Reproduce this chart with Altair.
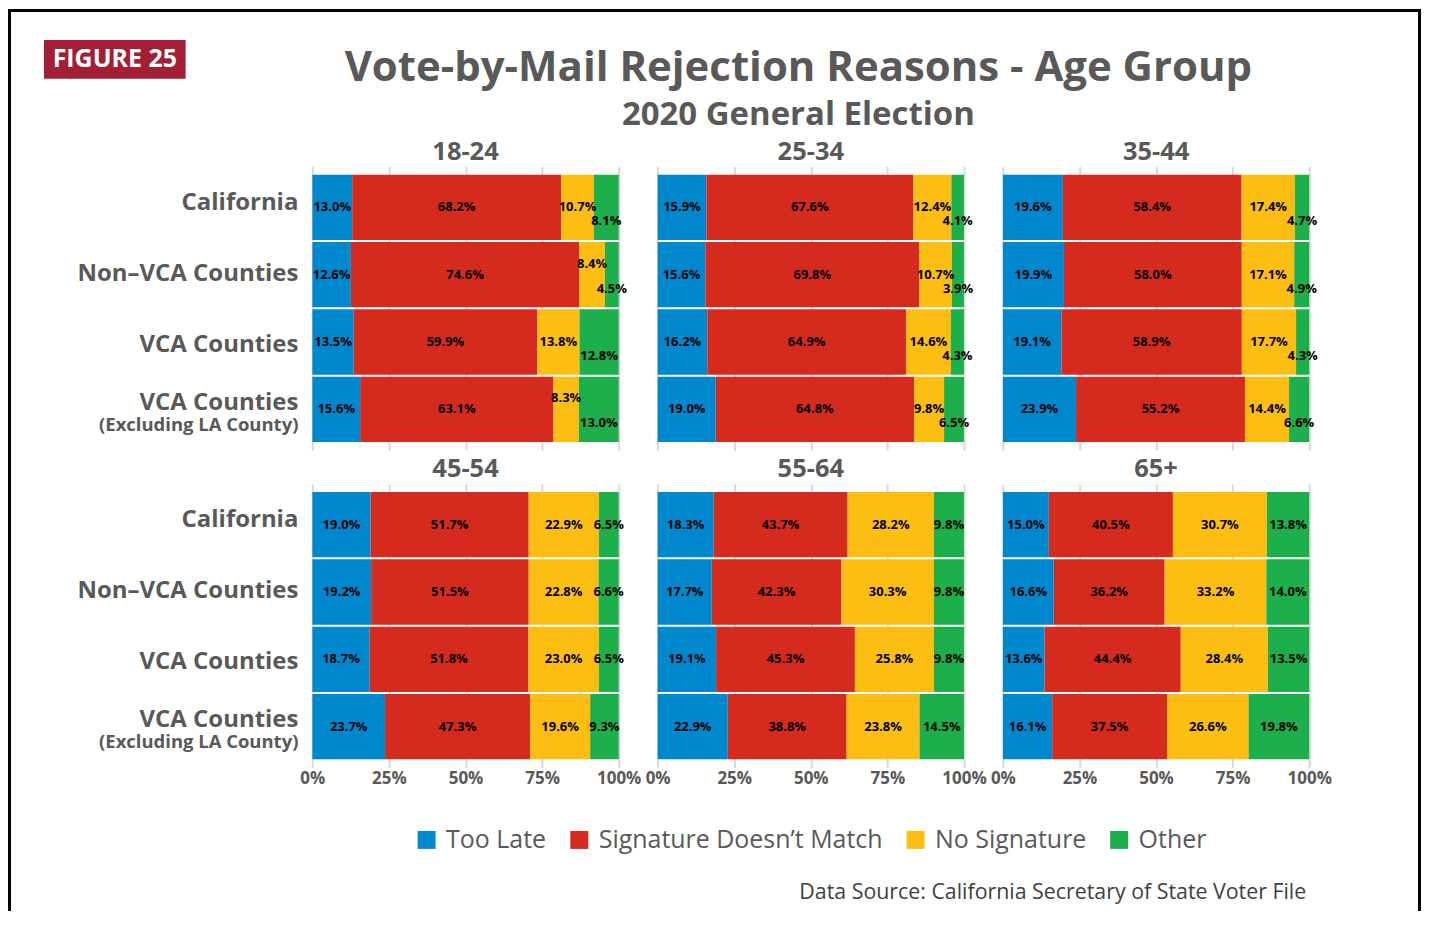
import altair as alt
import pandas as pd

# ---------------- data ----------------
ages = ["18-24", "25-34", "35-44", "45-54", "55-64", "65+"]
regions = ["California", "Non–VCA Counties", "VCA Counties", "VCA Counties (Excluding LA County)"]
region_main = ["California", "Non–VCA Counties", "VCA Counties", "VCA Counties"]
region_sub = ["", "", "", "(Excluding LA County)"]
reasons = ["Too Late", "Signature Doesn’t Match", "No Signature", "Other"]
colors = ["#0088CE", "#D52B1F", "#FDBE14", "#1CAF4B"]

# values ordered by age group, then region
too_late = [13.0, 12.6, 13.5, 15.6, 15.9, 15.6, 16.2, 19.0, 19.6, 19.9, 19.1, 23.9,
            19.0, 19.2, 18.7, 23.7, 18.3, 17.7, 19.1, 22.9, 15.0, 16.6, 13.6, 16.1]
sig_mismatch = [68.2, 74.6, 59.9, 63.1, 67.6, 69.8, 64.9, 64.8, 58.4, 58.0, 58.9, 55.2,
                51.7, 51.5, 51.8, 47.3, 43.7, 42.3, 45.3, 38.8, 40.5, 36.2, 44.4, 37.5]
no_sig = [10.7, 8.4, 13.8, 8.3, 12.4, 10.7, 14.6, 9.8, 17.4, 17.1, 17.7, 14.4,
          22.9, 22.8, 23.0, 19.6, 28.2, 30.3, 25.8, 23.8, 30.7, 33.2, 28.4, 26.6]
other = [8.1, 4.5, 12.8, 13.0, 4.1, 3.9, 4.3, 6.5, 4.7, 4.9, 4.3, 6.6,
         6.5, 6.6, 6.5, 9.3, 9.8, 9.8, 9.8, 14.5, 13.8, 14.0, 13.5, 19.8]

axis_ticks = [0, 0.25, 0.5, 0.75, 1]

title_text = "Vote-by-Mail Rejection Reasons - Age Group"
subtitle_text = "2020 General Election"
figure_text = "FIGURE 25"
source_text = "Data Source: California Secretary of State Voter File"

rows = []
series = [too_late, sig_mismatch, no_sig, other]
for i, age in enumerate(ages):
    for j, reg in enumerate(regions):
        for k, reason in enumerate(reasons):
            rows.append({"age": age, "region": reg, "reason": reason,
                         "order": k, "value": series[k][i * 4 + j]})
df = pd.DataFrame(rows)
lab_df = pd.DataFrame({"region": regions, "main": region_main, "sub": region_sub})
one = pd.DataFrame({"a": [0]})

# ---------------- style ----------------
FONT = "Open Sans"
GREY = "#595959"
PW, PH = 307, 284
LW = 266

yscale = alt.Scale(domain=regions, paddingInner=0.03, paddingOuter=0.12)
xscale = alt.Scale(domain=[0, 1], nice=False, zero=True)

legend = alt.Legend(orient="none", legendX=407, legendY=662, direction="horizontal",
                    title=None, symbolType="square", symbolSize=324,
                    symbolStrokeWidth=0, labelFont=FONT, labelFontSize=25,
                    labelColor=GREY, columnPadding=20, labelOffset=7, padding=0,
                    labelLimit=500)


def panel(age, top):
    xaxis = alt.Axis(values=axis_ticks, format=".0%", title=None, domain=False,
                     ticks=False, grid=True, gridColor="#D9D9D9", gridWidth=2,
                     labels=not top, labelFont=FONT, labelFontSize=17,
                     labelFontWeight="bold", labelColor=GREY, labelPadding=3,
                     labelFlush=False)
    base = (alt.Chart(df)
            .transform_filter(alt.datum.age == age)
            .transform_joinaggregate(total="sum(value)", groupby=["region"])
            .transform_calculate(frac="datum.value / datum.total")
            .transform_stack(stack="frac", groupby=["region"], as_=["x0", "x1"],
                             sort=[alt.SortField(field="order", order="ascending")])
            .transform_calculate(mid="(datum.x0 + datum.x1) / 2",
                                 label="format(datum.value, '.1f') + '%'"))
    y = alt.Y("region:N", scale=yscale, axis=None, sort=regions)
    bars = base.mark_bar().encode(
        x=alt.X("x0:Q", scale=xscale, axis=xaxis),
        x2="x1:Q",
        y=y,
        color=alt.Color("reason:N", scale=alt.Scale(domain=reasons, range=colors),
                        legend=legend),
    )

    def txt(flt, dy):
        c = base
        if flt:
            c = c.transform_filter(flt)
        return c.mark_text(font=FONT, fontSize=13, fontWeight="bold",
                           color="black", dy=dy).encode(
            x=alt.X("mid:Q", scale=xscale, axis=xaxis), y=y, text="label:N")

    layers = [bars]
    if top:
        c_other = "datum.reason == 'Other'"
        c_up = "datum.reason == 'No Signature' && datum.value < 9"
        layers.append(txt(f"!({c_other}) && !({c_up})", 0))
        layers.append(txt(c_other, 14))
        layers.append(txt(c_up, -11))
    else:
        layers.append(txt(None, 0))
    return alt.layer(*layers).properties(
        width=PW, height=PH,
        title=alt.TitleParams(age, font=FONT, fontSize=25.5, fontWeight="bold",
                              color=GREY, offset=1, anchor="middle"))


def label_chart(header):
    base = alt.Chart(lab_df)
    y = alt.Y("region:N", scale=yscale, axis=None, sort=regions)
    single = base.transform_filter("datum.sub == ''").mark_text(
        align="right", baseline="middle", font=FONT, fontSize=24,
        fontWeight="bold", color=GREY, dy=1).encode(x=alt.value(291), y=y, text="main:N")
    dmain = base.transform_filter("datum.sub != ''").mark_text(
        align="right", baseline="middle", font=FONT, fontSize=24,
        fontWeight="bold", color=GREY, dy=-12).encode(x=alt.value(291), y=y, text="main:N")
    dsub = base.transform_filter("datum.sub != ''").mark_text(
        align="right", baseline="middle", font=FONT, fontSize=18.5,
        fontWeight="bold", color=GREY, dy=10).encode(x=alt.value(291), y=y, text="sub:N")
    layers = [single, dmain, dsub]
    if header:
        d = alt.Chart(one)
        frame = d.mark_rect(color="black")
        layers += [
            frame.encode(x=alt.value(0), x2=alt.value(1416),
                         y=alt.value(-158), y2=alt.value(-155)),
            frame.encode(x=alt.value(0), x2=alt.value(3),
                         y=alt.value(-158), y2=alt.value(746)),
            frame.encode(x=alt.value(1413), x2=alt.value(1416),
                         y=alt.value(-158), y2=alt.value(746)),
            d.mark_rect(color="#A31F36").encode(
                x=alt.value(36), x2=alt.value(178), y=alt.value(-127), y2=alt.value(-88)),
            d.mark_text(font=FONT, fontSize=25, fontWeight="bold", color="white",
                        baseline="middle", align="center").encode(
                x=alt.value(107), y=alt.value(-108), text=alt.value(figure_text)),
            d.mark_text(font=FONT, fontSize=42, fontWeight="bold", color=GREY,
                        baseline="middle", align="center").encode(
                x=alt.value(792), y=alt.value(-99), text=alt.value(title_text)),
            d.mark_text(font=FONT, fontSize=33, fontWeight="bold", color=GREY,
                        baseline="middle", align="center").encode(
                x=alt.value(792), y=alt.value(-52), text=alt.value(subtitle_text)),
            d.mark_text(font=FONT, fontSize=21.4, color="#404040",
                        baseline="middle", align="right").encode(
                x=alt.value(1301), y=alt.value(728), text=alt.value(source_text)),
        ]
    return alt.layer(*layers).properties(width=LW, height=PH)


chart = alt.concat(
    label_chart(True), panel(ages[0], True), panel(ages[1], True), panel(ages[2], True),
    label_chart(False), panel(ages[3], False), panel(ages[4], False), panel(ages[5], False),
    columns=4, spacing={"row": 34, "column": 39}, bounds="flush",
).properties(padding=0).configure_view(stroke=None)

chart.save("out.html", embed_options={"renderer": "svg", "actions": False})
